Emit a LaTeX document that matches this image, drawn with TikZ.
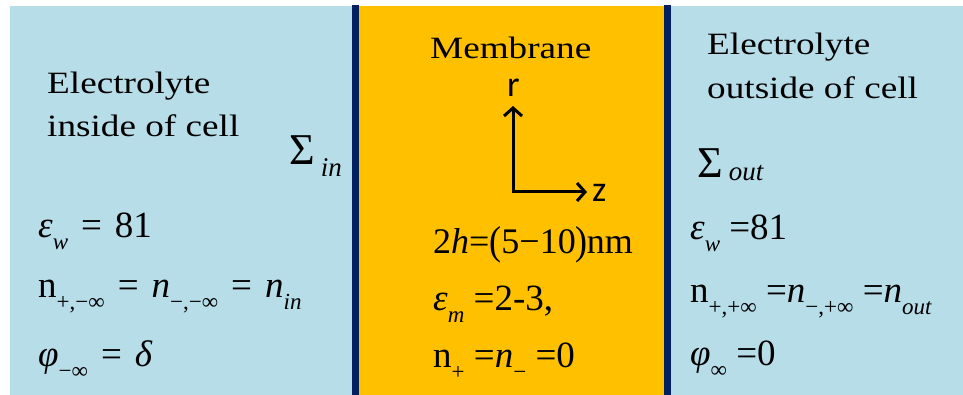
\documentclass[tikz,border=0pt]{standalone}
\usepackage{fontspec}
\setmainfont{Liberation Serif}
\newfontfamily\widefont{Liberation Serif}[FakeStretch=1.2]
\newfontfamily\eqfont{Liberation Serif}
\newfontfamily\axfont{Carlito}
\usetikzlibrary{arrows.meta}
\definecolor{water}{HTML}{B7DDE8}
\definecolor{membr}{HTML}{FFC000}
\definecolor{navy}{HTML}{002060}
\newcommand\dn[2][12pt]{\raisebox{-#1}{\fontsize{23}{23}\selectfont #2}}
\newcommand\sdn[2][12pt]{\kern6pt\raisebox{-#1}{\fontsize{27}{27}\selectfont #2}}
\newcommand\tallpar[1]{\raisebox{-1pt}{\scalebox{1}[1.12]{#1}}}
\newcommand\eqs{\hspace{13pt}=\hspace{13pt}}
\begin{document}
\begin{tikzpicture}[x=1pt,y=-1pt,
  lbl/.style={inner sep=0pt, anchor=base west, font=\widefont\fontsize{31}{36}\selectfont},
  eq/.style={inner sep=0pt, anchor=base west, font=\eqfont\fontsize{37}{42}\selectfont},
  sig/.style={inner sep=0pt, anchor=base west, font=\eqfont\fontsize{44}{48}\selectfont},
  axl/.style={inner sep=0pt, anchor=base west, font=\axfont\fontsize{36}{40}\selectfont},
  wall/.style={navy, line width=7pt},
  axis/.style={line width=3pt, {Straight Barb[length=8pt,width=18pt]}-{Straight Barb[length=8pt,width=18pt]}}]
\useasboundingbox (0,0) rectangle (963,395);
% regions
\fill[water] (10,6) rectangle (963,395);
\fill[membr] (359,6) rectangle (664,395);
\coordinate (w1t) at (355,5); \coordinate (w1b) at (355,395);
\coordinate (w2t) at (667.5,5); \coordinate (w2b) at (667.5,395);
\draw[wall] (w1t) -- (w1b);
\draw[wall] (w2t) -- (w2b);
% left labels
\node[lbl] (elin1) at (47,94) {Electrolyte};
\node[lbl] (elin2) at (47,137) {inside of cell};
\node[sig] (sigin) at (289,165) {Σ\sdn[12pt]{\textit{in}}};
\node[eq] (l1) at (38,238) {\textit{ε}\dn{\textit{w}}\eqs81};
\node[eq] (l2) at (38,297) {n\dn{+,−∞}\eqs\textit{n}\dn{−,−∞}\eqs\textit{n}\dn{\textit{in}}};
\node[eq] (l3) at (38,366) {\textit{φ}\dn{−∞}\eqs\textit{δ}};
% membrane
\node[lbl] (mem) at (430,59) {Membrane};
\coordinate (rt) at (513,106);
\coordinate (zt) at (587,192);
\draw[axis] (rt) |- (zt);
\node[axl] (rl) at (507,97) {r};
\node[axl] (zl) at (592,202) {z};
\node[eq, font=\eqfont\fontsize{36}{42}\selectfont] (c1) at (433,254) {2\textit{h}=\tallpar{(}5−10\tallpar{)}\kern-1pt nm};
\node[eq] (c2) at (433,310) {\textit{ε}\dn{\textit{m}} =2-3,};
\node[eq] (c3) at (433,367) {n\dn{+} =\textit{n}\dn{−} =0};
% right labels
\node[lbl] (elout1) at (707,55) {Electrolyte};
\node[lbl] (elout2) at (707,99) {outside of cell};
\node[sig] (sigout) at (697,178) {Σ\sdn[3pt]{\textit{out}}};
\node[eq] (r1) at (690,240) {\textit{ε}\dn{\textit{w}} =81};
\node[eq] (r2) at (690,302) {n\dn{+,+∞} =\textit{n}\dn{−,+∞} =\textit{n}\dn{\textit{out}}};
\node[eq] (r3) at (690,365) {\textit{φ}\dn{∞} =0};
\end{tikzpicture}
\end{document}
